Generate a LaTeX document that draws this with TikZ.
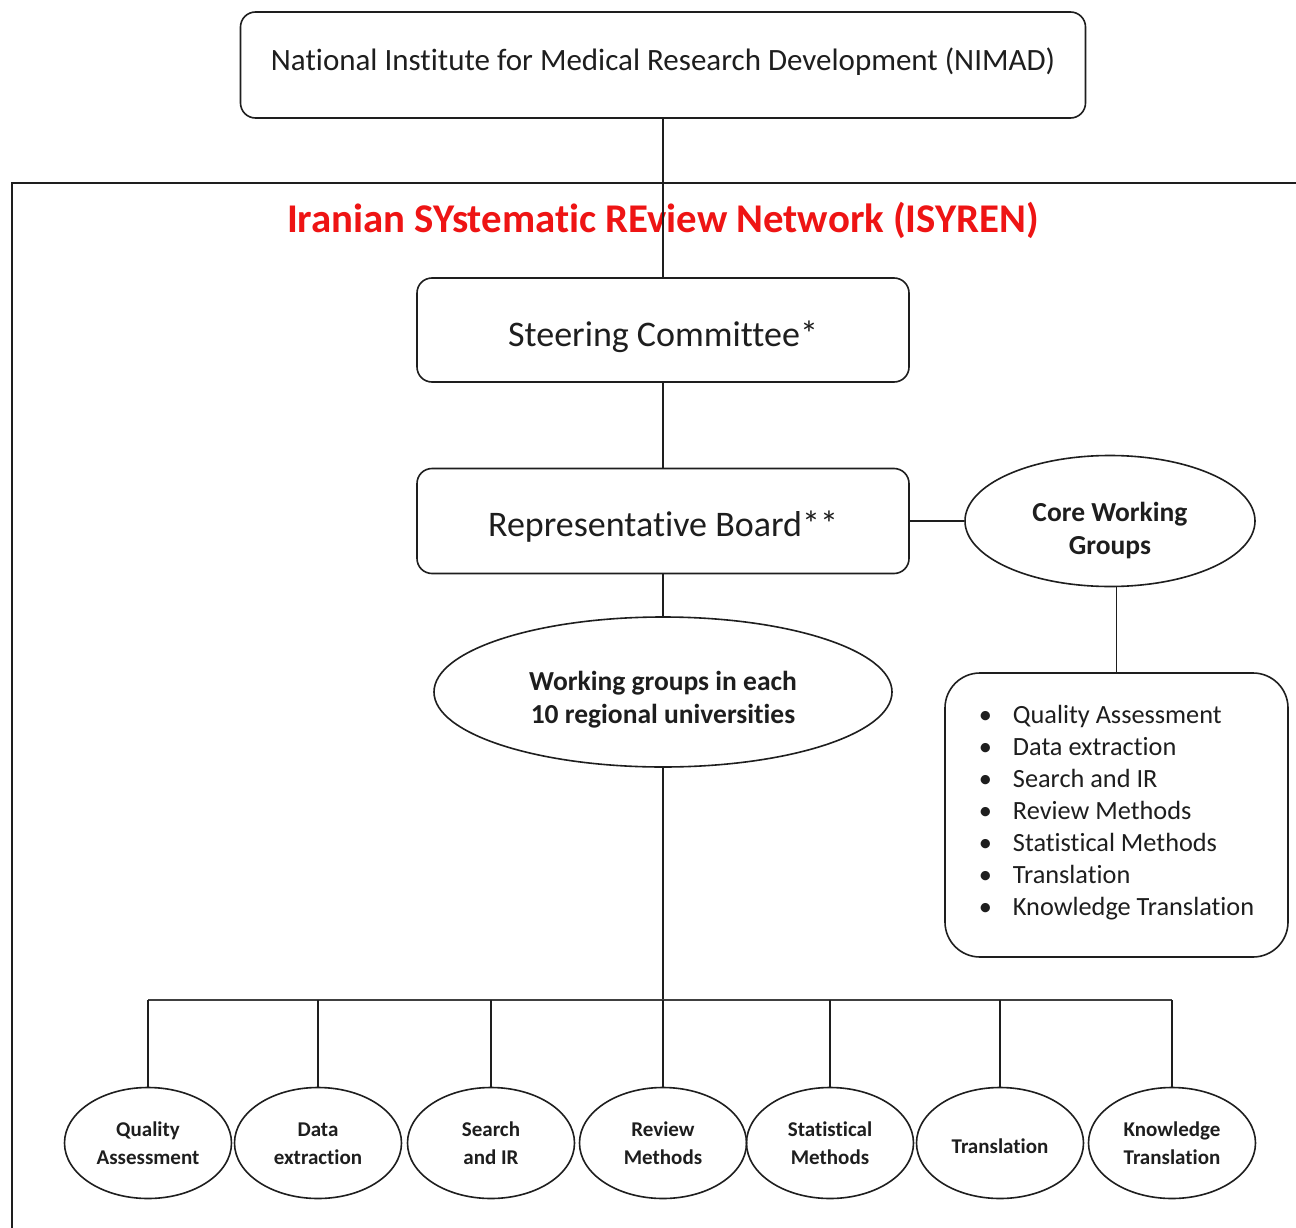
\documentclass[tikz,border=0pt]{standalone}
\usepackage{fontspec}
\setmainfont{Carlito}[Ligatures=NoCommon]
\usetikzlibrary{shapes.geometric}
\definecolor{isyred}{RGB}{238,20,20}
\definecolor{ink}{RGB}{30,30,30}
\newcommand\lowerby[2]{\raisebox{-#1}[\height][\depth]{#2}}
\tikzset{
  ln/.style={line width=1.6pt, draw=ink},
  rbox/.style={ln, rectangle, rounded corners=15pt, inner sep=0pt, align=center, text=ink},
  bigell/.style={ln, ellipse, inner sep=0pt, align=center, text=ink, font=\bfseries\fontsize{27.5}{33}\selectfont},
  smell/.style={ln, ellipse, inner sep=0pt, minimum width=167pt, minimum height=111pt, align=center, text=ink, font=\bfseries\fontsize{21}{28}\selectfont},
  busline/.style={line width=2.6pt, draw=ink!85}
}
\begin{document}
\begin{tikzpicture}[x=1pt,y=-1pt]
\useasboundingbox (0,0) rectangle (1296,1228);
\fill[white] (0,0) rectangle (1296,1228);
% outer frame (cut off at right and bottom)
\draw[ln] (1297,183) -- (12,183) -- (12,1229);
% top
\node[rbox, minimum width=845pt, minimum height=106pt, font=\fontsize{31}{36}\selectfont] (nimad) at (663,65) {\lowerby{-3pt}{National Institute for Medical Research Development (NIMAD)}};
\node[text=isyred, font=\bfseries\fontsize{40.8}{46}\selectfont, inner sep=0pt] (title) at (663,218) {\lowerby{2pt}{Iranian SYstematic REview Network (ISYREN)}};
\node[rbox, minimum width=492pt, minimum height=104pt, font=\fontsize{36}{40}\selectfont] (steer) at (663,330) {\lowerby{7pt}{Steering Committee*}};
\node[rbox, minimum width=492pt, minimum height=105pt, font=\fontsize{36}{40}\selectfont] (board) at (663,521) {\lowerby{6pt}{Representative Board**}};
\node[bigell, minimum width=290pt, minimum height=131pt] (core) at (1110,521) {\lowerby{10pt}{\begin{tabular}{@{}c@{}}Core Working\\Groups\end{tabular}}};
\node[rbox, rounded corners=35pt, minimum width=343pt, minimum height=284pt, font=\fontsize{26.3}{32}\selectfont] (list) at (1116.5,815)
 {\lowerby{-2pt}{\begin{tabular}{@{}l@{\hspace{21pt}}l@{}}
 \textbullet & Quality Assessment\\
 \textbullet & Data extraction\\
 \textbullet & Search and IR\\
 \textbullet & Review Methods\\
 \textbullet & Statistical Methods\\
 \textbullet & Translation\\
 \textbullet & Knowledge Translation
 \end{tabular}}};
\node[bigell, minimum width=458pt, minimum height=150pt] (wg) at (663,692) {\lowerby{8pt}{\begin{tabular}{@{}c@{}}Working groups in each\\10 regional universities\end{tabular}}};
% bottom ellipses
\node[smell] (q1) at (148,1143) {\lowerby{2pt}{\begin{tabular}{@{}c@{}}Quality\\Assessment\end{tabular}}};
\node[smell] (q2) at (318,1143) {\lowerby{2pt}{\begin{tabular}{@{}c@{}}Data\\extraction\end{tabular}}};
\node[smell] (q3) at (491,1143) {\lowerby{2pt}{\begin{tabular}{@{}c@{}}Search\\and IR\end{tabular}}};
\node[smell] (q4) at (663,1143) {\lowerby{2pt}{\begin{tabular}{@{}c@{}}Review\\Methods\end{tabular}}};
\node[smell] (q5) at (830,1143) {\lowerby{2pt}{\begin{tabular}{@{}c@{}}Statistical\\Methods\end{tabular}}};
\node[smell] (q6) at (1000,1143) {\lowerby{3pt}{Translation}};
\node[smell] (q7) at (1172,1143) {\lowerby{2pt}{\begin{tabular}{@{}c@{}}Knowledge\\Translation\end{tabular}}};
\coordinate (bus) at (663,1000);
% connectors
\draw[ln] (nimad.south) -- (steer.north);
\draw[ln] (steer.south) -- (board.north);
\draw[ln] (board.east) -- (core.west);
\draw[ln] (list.north) -- (list.north |- core.south);
\draw[ln] (board.south) -- (wg.north);
\draw[ln] (wg.south) -- (bus);
\draw[busline] (q1.north |- bus) -- (q7.north |- bus);
\foreach \q in {q1,q2,q3,q4,q5,q6,q7} {
  \draw[ln] (\q.north) -- (\q.north |- bus);
}
\end{tikzpicture}
\end{document}
